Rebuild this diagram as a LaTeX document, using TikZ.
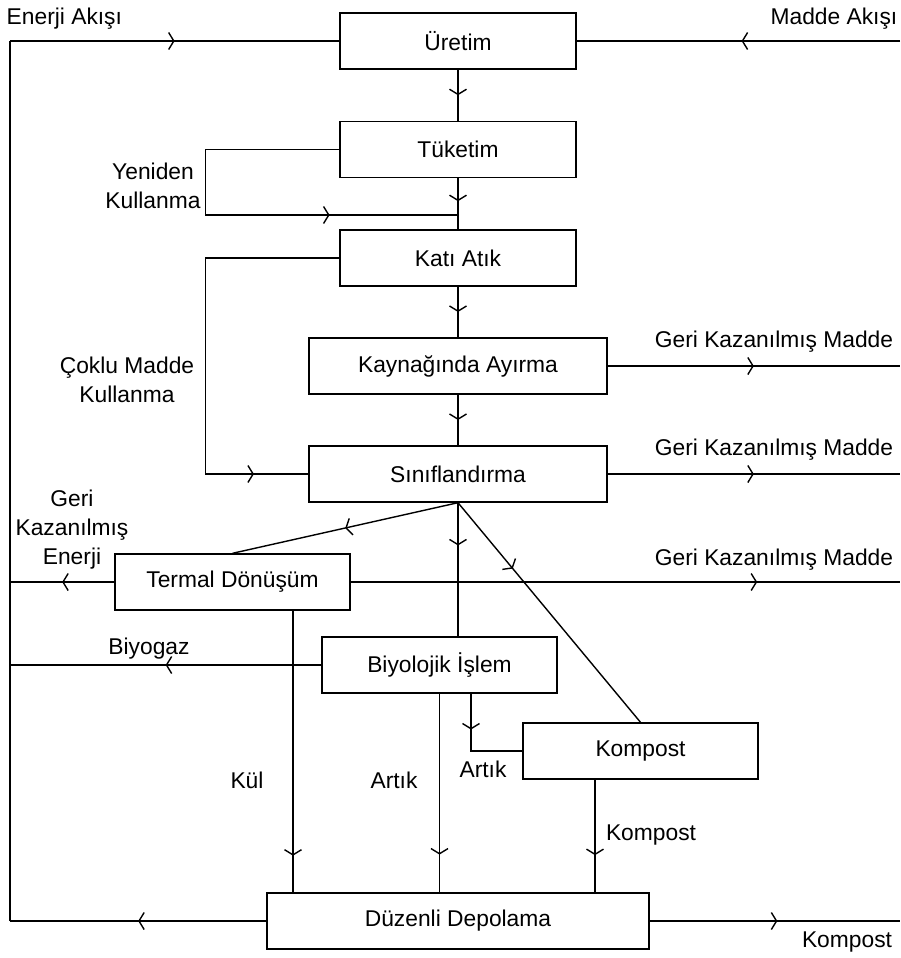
\documentclass[tikz,border=0pt]{standalone}
\usepackage{fontspec}
\setmainfont{Liberation Sans}
\usetikzlibrary{arrows.meta, decorations.markings}

\begin{document}
\begin{tikzpicture}[
    x=0.5pt, y=-0.5pt, line width=0.7pt,
    font=\fontsize{11.4}{14.5}\selectfont,
    box/.style={rectangle, draw, minimum width=118pt, minimum height=28pt, inner sep=0pt, text centered},
    wide/.style={box, minimum width=149pt},
    txt/.style={inner sep=0pt, align=center},
    flow/.style={postaction={decorate, decoration={markings,
        mark=at position #1 with {\arrow{Straight Barb[length=2.6pt, width=8.5pt]}}}}}
]
\useasboundingbox (0,0) rectangle (900,958);

% Main chain
\node[box] (uretim) at (458,41) {Üretim};
\node[box] (tuketim) at (458,149.5) {Tüketim};
\node[box] (kati) at (458,258) {Katı Atık};
\node[wide] (kaynak) at (458,366) {Kaynağında Ayırma};
\node[wide] (sinif) at (458,474) {Sınıflandırma};

% Treatment and disposal
\node[box, minimum width=117.5pt] (termal) at (232.5,582) {Termal Dönüşüm};
\node[box, minimum width=117.5pt] (bio) at (439.5,665) {Biyolojik İşlem};
\node[box, minimum width=117.5pt] (kompost) at (640.5,751) {Kompost};
\node[box, minimum width=191pt] (depo) at (458,921) {Düzenli Depolama};

% Free ends
\coordinate (eTop) at (10,41);
\coordinate (eBot) at (10,921);
\coordinate (mRight) at (900,41);
\coordinate (reuse) at (458,215);

% Energy loop on the left
\draw (eBot) -- (eTop);
\draw[flow=0.5] (depo.west) -- (eBot);
\draw[flow=0.5] (eTop) -- (uretim.west);
\draw[flow=0.5] (termal.west) -- (termal.west -| eTop);
\draw[flow=0.5] (bio.west) -- (bio.west -| eTop);

% Material input and outputs on the right
\draw[flow=0.49] (mRight) -- (uretim.east);
\draw[flow=0.5] (kaynak.east) -- (kaynak.east -| mRight);
\draw[flow=0.5] (sinif.east) -- (sinif.east -| mRight);
\draw[flow=0.74] (termal.east) -- (termal.east -| mRight);
\draw[flow=0.51] (depo.east) -- (depo.east -| mRight);

% Down the chain
\draw[flow=0.5] (uretim.south) -- (tuketim.north);
\draw[flow=0.45] (tuketim.south) -- (kati.north);
\draw[flow=0.5] (kati.south) -- (kaynak.north);
\draw[flow=0.5] (kaynak.south) -- (sinif.north);
\draw[flow=0.716] (tuketim.west) -- ++(-134,0) |- (reuse);
\draw[flow=0.88] (kati.west) -- ++(-134,0) |- (sinif.west);

% Sorting to treatment
\draw[flow=0.5] (sinif.south) -- (termal.north);
\draw[flow=0.32] (sinif.south) -- (sinif.south |- bio.north);
\draw[flow=0.3] (sinif.south) -- (kompost.north);
\draw[flow=0.33] ([xshift=15.75pt]bio.south) |- (kompost.west);

% Into landfill
\draw[flow=0.87] ([xshift=30.25pt]termal.south) -- ([xshift=30.25pt]termal.south |- depo.north);
\draw[flow=0.81] (bio.south) -- (bio.south |- depo.north);
\draw[flow=0.67] ([xshift=-22.75pt]kompost.south) -- ([xshift=-22.75pt]kompost.south |- depo.north);

% Labels
\node[txt, anchor=base west] (enerji) at (6,25) {Enerji Akışı};
\node[txt, anchor=base east] (madde) at (898,25) {Madde Akışı};
\node[txt] (yeniden) at (153,186) {Yeniden\\Kullanma};
\node[txt] (coklu) at (127,380) {Çoklu Madde\\Kullanma};
\node[txt, anchor=base] (gk1) at (774,347) {Geri Kazanılmış Madde};
\node[txt, anchor=base] (gk2) at (774,455) {Geri Kazanılmış Madde};
\node[txt, anchor=base] (gk3) at (774,565) {Geri Kazanılmış Madde};
\node[txt] (generji) at (72,530) {Geri\\Kazanılmış\\Enerji};
\node[txt, anchor=base] (biyogaz) at (149,654) {Biyogaz};
\node[txt, anchor=base] (kul) at (247,788) {Kül};
\node[txt, anchor=base] (artik1) at (394,788) {Artık};
\node[txt, anchor=base] (artik2) at (483,777) {Artık};
\node[txt, anchor=base] (kompost1) at (651,840) {Kompost};
\node[txt, anchor=base] (kompost2) at (847,947) {Kompost};

\end{tikzpicture}
\end{document}
